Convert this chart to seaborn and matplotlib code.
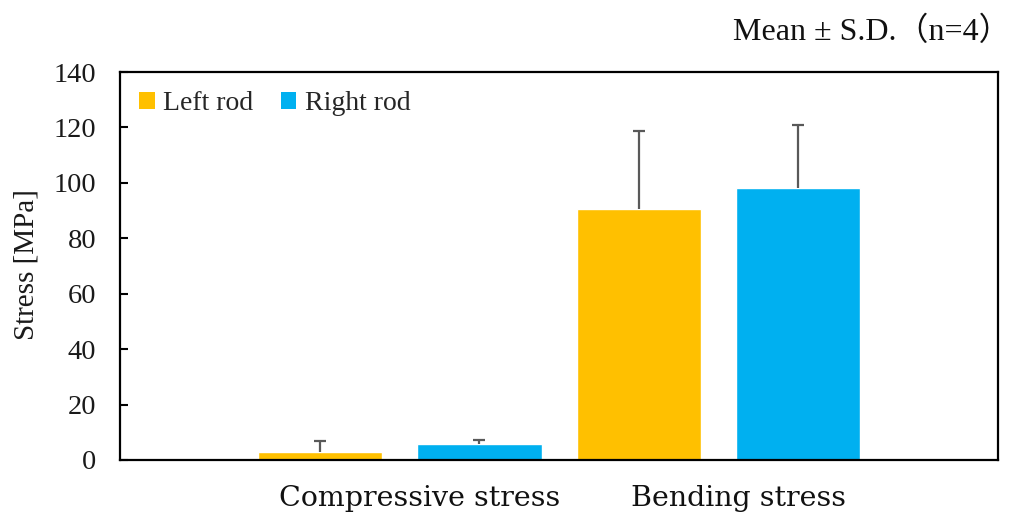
import matplotlib
matplotlib.use("Agg")
import matplotlib.pyplot as plt
from matplotlib.transforms import ScaledTranslation
from matplotlib.patches import Patch
import seaborn as sns
import pandas as pd

# Mean stress and standard deviation per rod (n=4)
categories = ["Compressive stress", "Bending stress"]
rods = ["Left rod", "Right rod"]
left_mean = [3.0, 90.5]
left_sd = [3.7, 28.3]
right_mean = [5.8, 98.0]
right_sd = [1.5, 22.9]
colors = ["#FFC000", "#00B0F0"]
y_ticks = [0, 20, 40, 60, 80, 100, 120, 140]

df = pd.DataFrame({
    "category": categories * 2,
    "rod": [rods[0]] * 2 + [rods[1]] * 2,
    "stress": left_mean + right_mean,
})
sds = {rods[0]: left_sd, rods[1]: right_sd}

sns.set_theme(style="white")
serif = ["Liberation Serif", "Noto Sans CJK JP", "DejaVu Sans"]
plt.rcParams["font.family"] = serif

fig = plt.figure(figsize=(10.16, 5.18), dpi=100)
ax = fig.add_axes([0.1181, 0.112, 0.8642, 0.749])

sns.barplot(data=df, x="category", y="stress", hue="rod", order=categories,
            hue_order=rods, palette=colors, width=1.0, gap=0.22,
            errorbar=None, saturation=1, legend=False, ax=ax)

# Upper-only standard deviation whiskers on each bar
for rod, cont in zip(rods, ax.containers):
    xs = [p.get_x() + p.get_width() / 2 for p in cont.patches]
    hs = [p.get_height() for p in cont.patches]
    sd = sds[rod]
    eb = ax.errorbar(xs, hs, yerr=[[0] * len(sd), sd], fmt="none",
                     ecolor="#595959", elinewidth=1.6, capsize=4.3,
                     capthick=1.6, zorder=5)
    eb[1][0].set_visible(False)  # no cap at the bar top

ax.set_xlim(-0.88, 1.88)
ax.set_ylim(0, 140)
ax.set_yticks(y_ticks)
ax.set_yticklabels([str(t) for t in y_ticks], fontsize=20.5, color="#1a1a1a")
ax.tick_params(axis="y", direction="in", length=6, width=1.5, left=True,
               color="black", pad=17)
ax.tick_params(axis="x", length=0, pad=18)
ax.set_xticks(range(len(categories)))
ax.set_xticklabels(categories, fontsize=20.5, family="DejaVu Serif",
                   color="#111111")
shift = ScaledTranslation(0.20, 0, fig.dpi_scale_trans)
for lbl in ax.get_xticklabels():
    lbl.set_transform(lbl.get_transform() + shift)

ax.set_xlabel("")
ax.set_ylabel("Stress [MPa]", fontsize=21, color="#1a1a1a")
ax.yaxis.set_label_coords(-0.092, 0.503)

for s in ax.spines.values():
    s.set_visible(True)
    s.set_color("black")
    s.set_linewidth(1.6)

handles = [Patch(facecolor=c, edgecolor="none") for c in colors]
ax.legend(handles, rods, loc="upper left", bbox_to_anchor=(0.0, 1.0),
          frameon=False, fontsize=20, handlelength=0.55, handleheight=0.55,
          handletextpad=0.3, columnspacing=1.0, ncol=2, borderaxespad=0.3)

fig.text(0.995, 0.968, "Mean ± S.D.（n=4）", ha="right", va="top",
         fontsize=23, family=serif, color="#111111")

fig.savefig("out.png", dpi=100, facecolor="white")
